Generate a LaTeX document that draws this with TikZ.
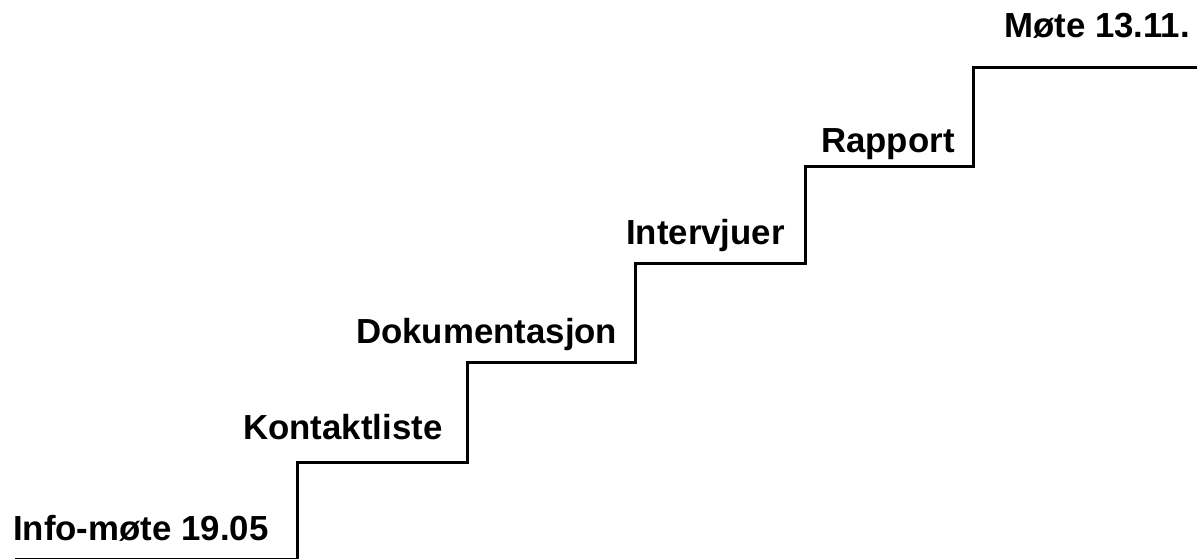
\documentclass[tikz,border=0pt]{standalone}
\usepackage{fontspec}
\setmainfont{Liberation Sans}
\begin{document}
\begin{tikzpicture}[x=1pt,y=1pt,
  lbl/.style={anchor=base west,inner sep=0pt,font=\fontsize{34.8}{40}\selectfont\bfseries},
  stair/.style={draw=black,line width=3pt,line join=miter}]
\useasboundingbox (0,0) rectangle (1197,558);
% step coordinates (y = 558 - pixel row)
\coordinate (s0) at (15,-1.2);
\coordinate (r1b) at (297,-1.2);
\coordinate (r1t) at (297,96);
\coordinate (r2b) at (467,96);
\coordinate (r2t) at (467,195.5);
\coordinate (r3b) at (635,195.5);
\coordinate (r3t) at (635,295);
\coordinate (r4b) at (805,295);
\coordinate (r4t) at (805,391);
\coordinate (r5b) at (973,391);
\coordinate (r5t) at (973,490);
\coordinate (e) at (1200,490);
\draw[stair] (s0) -- (r1b) -- (r1t) -- (r2b) -- (r2t) -- (r3b) -- (r3t) -- (r4b) -- (r4t) -- (r5b) -- (r5t) -- (e);
\node[lbl] (info) at (13,18) {Info-møte 19.05};
\node[lbl] (kont) at (243,119) {Kontaktliste};
\node[lbl] (dok) at (356,215) {Dokumentasjon};
\node[lbl] (int) at (626,313) {Intervjuer};
\node[lbl] (rap) at (821,405) {Rapport};
\node[lbl] (mote) at (1004,520) {Møte 13.11.};
\end{tikzpicture}
\end{document}
